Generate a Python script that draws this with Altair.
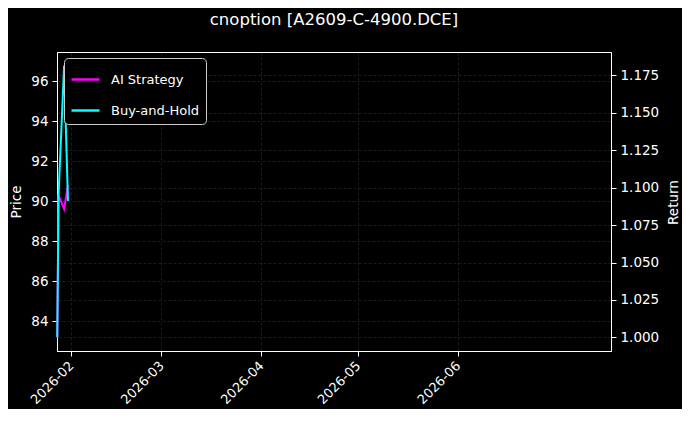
import altair as alt
import pandas as pd

# ---- data ----
dates = ["2026-01-27T18:00:00", "2026-01-28T03:30:00", "2026-01-29T21:00:00", "2026-01-31T01:40:00"]
price = [83.2, 90.3, 96.8, 90.0]
ai_strategy = [1.0, 1.0951, 1.0858, 1.1018]
buy_and_hold = [1.0, 1.0951, 1.1816, 1.0911]
series_names = ["AI Strategy", "Buy-and-Hold"]
series_colors = ["#ff00ff", "#00ffff"]
price_ticks = [84, 86, 88, 90, 92, 94, 96]
return_ticks = [1.0, 1.025, 1.05, 1.075, 1.1, 1.125, 1.15, 1.175]
month_ticks = [2, 3, 4, 5, 6]

FONT = "DejaVu Sans"

price_df = pd.DataFrame({"date": dates, "price": price})
ret_df = pd.DataFrame({
    "date": dates * 2,
    "ret": ai_strategy + buy_and_hold,
    "series": [series_names[0]] * len(dates) + [series_names[1]] * len(dates),
})

x_enc = alt.X(
    "date:T",
    scale=alt.Scale(domain=[alt.DateTime(year=2026, month=1, date=27, hours=16),
                            alt.DateTime(year=2026, month=7, date=18, hours=14)]),
    axis=alt.Axis(
        values=[alt.DateTime(year=2026, month=m, date=1) for m in month_ticks],
        format="%Y-%m", labelAngle=-45, labelAlign="right", labelBaseline="top",
        labelOffset=-4, labelPadding=3, labelFontSize=13,
        title=None, grid=True,
    ),
)

price_layer = alt.Chart(price_df).mark_line(strokeOpacity=0).encode(
    x=x_enc,
    y=alt.Y("price:Q", scale=alt.Scale(domain=[82.5, 97.45], nice=False, zero=False),
            axis=alt.Axis(values=price_ticks, format="d", title="Price", orient="left",
                          grid=True, titlePadding=7)),
)

color_enc = alt.Color(
    "series:N",
    scale=alt.Scale(domain=series_names, range=series_colors),
    legend=alt.Legend(title=None, orient="none", legendX=7, legendY=6),
)

y_ret = alt.Y("ret:Q", scale=alt.Scale(domain=[0.9909, 1.1907], nice=False, zero=False),
              axis=alt.Axis(values=return_ticks, format=".3f", title="Return", orient="right",
                            grid=True, titleAngle=270, titleX=62, titleY=150,
                            titleAlign="center", titleBaseline="middle"))

ai_layer = alt.Chart(ret_df).transform_filter(
    alt.datum.series == series_names[0]
).mark_line(strokeWidth=2).encode(x=x_enc, y=y_ret, color=color_enc)

bh_layer = alt.Chart(ret_df).transform_filter(
    alt.datum.series == series_names[1]
).mark_line(strokeWidth=2).encode(x=x_enc, y=y_ret, color=color_enc)

ret_layers = alt.layer(ai_layer, bh_layer)

chart = alt.layer(price_layer, ret_layers).resolve_scale(y="independent").resolve_axis(
    y="independent"
).properties(
    width=554, height=299,
    autosize=alt.AutoSizeParams(type="none"),
    padding={"left": 49, "top": 44, "right": 71, "bottom": 58},
    background="black",
    title=alt.TitleParams("cnoption [A2609-C-4900.DCE]", color="white", fontSize=16.5,
                          fontWeight="normal", font=FONT, anchor="middle", offset=24),
).configure_view(
    stroke="white", strokeWidth=1, fill="black",
).configure_axis(
    domainColor="white", tickColor="white", tickSize=5, labelColor="white",
    labelFont=FONT, labelFontSize=13.5, titleFont=FONT, titleFontSize=13.5,
    titleFontWeight="normal", titleColor="white", labelPadding=4,
    gridColor="white", gridOpacity=0.18, gridDash=[3, 2], gridWidth=0.6,
).configure_legend(
    labelColor="white", labelFont=FONT, labelFontSize=13,
    symbolType="stroke", symbolSize=784, symbolStrokeWidth=2.5,
    strokeColor="#cccccc", fillColor="black", cornerRadius=4, padding=6,
    rowPadding=8, labelOffset=10,
)

chart.save("out.html", embed_options={"renderer": "svg", "actions": False})
